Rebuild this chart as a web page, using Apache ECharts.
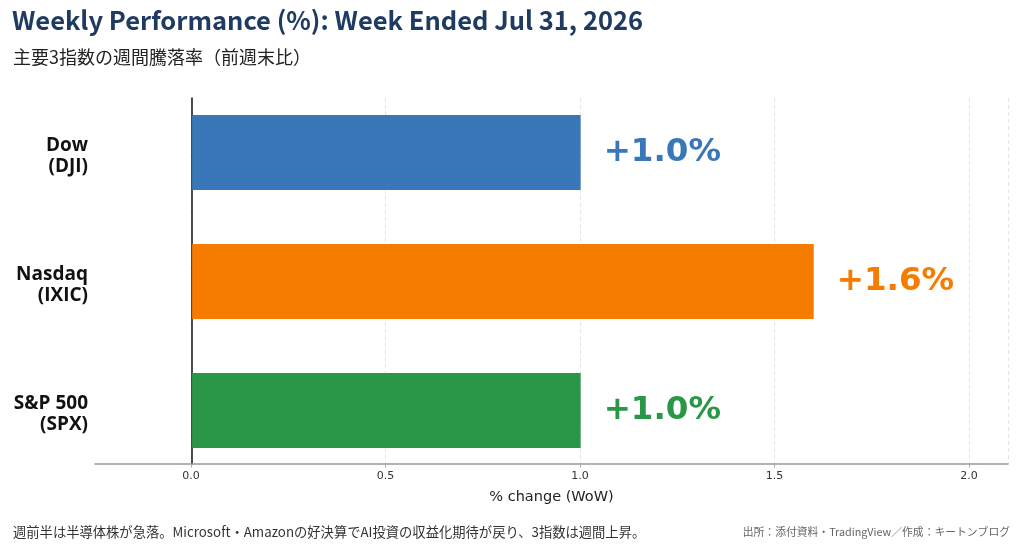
<!DOCTYPE html>
<html>
<head>
<meta charset="utf-8">
<script src="https://cdn.jsdelivr.net/npm/echarts@6/dist/echarts.min.js"></script>
<style>
  html, body { margin: 0; padding: 0; background: #fff; }
  #chart { width: 1024px; height: 545px; }
</style>
</head>
<body>
<div id="chart"></div>
<script>
// data
var indexNames = ['Dow\n(DJI)', 'Nasdaq\n(IXIC)', 'S&P 500\n(SPX)'];
var weeklyChange = [1.0, 1.6, 1.0];
var barColors = ['#3a77b9', '#f57c00', '#2a9748'];
var axisMin = -0.25, axisMax = 2.1, tickStep = 0.5;

var CJK = '"Noto Sans CJK JP", "Noto Sans", sans-serif';
var DV = '"DejaVu Sans", sans-serif';
var OS = '"Open Sans", "Noto Sans", sans-serif';

function run() {
    var chart = echarts.init(document.getElementById('chart'));

    var catText = { fontFamily: OS, fontSize: 19, fontWeight: 'bold', color: '#111', lineHeight: 24, align: 'right' };

    var option = {
        animation: false,
        backgroundColor: '#fff',
        title: [
            { text: 'Weekly Performance (%): Week Ended Jul 31, 2026', left: 7, top: 3,
              textStyle: { fontFamily: CJK, fontSize: 25.5, fontWeight: 'bold', color: '#1f3b62' } },
            { text: '主要3指数の週間騰落率（前週末比）', left: 8, top: 43,
              textStyle: { fontFamily: CJK, fontSize: 18, fontWeight: 'normal', color: '#222' } },
            { text: '週前半は半導体株が急落。Microsoft・Amazonの好決算でAI投資の収益化期待が戻り、3指数は週間上昇。', left: 8, top: 520,
              textStyle: { fontFamily: CJK, fontSize: 13.3, fontWeight: 'normal', color: '#333' } },
            { text: '出所：添付資料・TradingView／作成：キートンブログ', right: 9, top: 522,
              textStyle: { fontFamily: CJK, fontSize: 10.8, fontWeight: 'normal', color: '#666' } }
        ],
        grid: [
            // bars
            { left: 95, right: 16, top: 88, height: 387, outerBoundsMode: 'none' },
            // ticks + split lines
            { left: 191, right: 16, top: 98, height: 366, outerBoundsMode: 'none' },
            // frame lines
            { left: 95, right: 16, top: 98, height: 366, outerBoundsMode: 'none' }
        ],
        xAxis: [
            { gridIndex: 0, type: 'value', min: axisMin, max: axisMax, show: false },
            { gridIndex: 1, type: 'value', min: 0, max: axisMax, interval: tickStep,
              axisLine: { show: false },
              axisTick: { show: true, length: 3.5, lineStyle: { color: '#aaa', width: 1 } },
              axisLabel: { fontFamily: DV, fontSize: 11, color: '#333', margin: 7,
                           showMaxLabel: false,
                           formatter: function (v) { return v.toFixed(1); } },
              splitLine: { show: true, lineStyle: { type: [4, 3], color: '#e4e4e4', width: 1 } } },
            { gridIndex: 2, type: 'value', min: axisMin, max: axisMax,
              axisLine: { show: true, onZero: false, lineStyle: { color: '#999', width: 1.5 } },
              axisTick: { show: false }, axisLabel: { show: false }, splitLine: { show: false },
              name: '% change (WoW)', nameLocation: 'middle', nameGap: 26,
              nameTextStyle: { fontFamily: DV, fontSize: 14.5, color: '#222' } }
        ],
        yAxis: [
            { gridIndex: 0, type: 'category', data: indexNames, inverse: true,
              axisLine: { show: false }, axisTick: { show: false },
              axisLabel: {
                  align: 'right', margin: 7,
                  formatter: function (v) {
                      var parts = v.split('\n');
                      return '{a|' + parts[0] + '}\n{b|' + parts[1] + '}';
                  },
                  rich: {
                      a: Object.assign({}, catText, { padding: [11, 0, 0, 0] }),
                      b: Object.assign({}, catText, { padding: [4, 0, 0, 0] })
                  }
              } },
            { gridIndex: 1, type: 'value', show: false },
            { gridIndex: 2, type: 'value', min: 0, max: 1,
              axisLine: { show: true, onZero: true, lineStyle: { color: '#111', width: 1.5 } },
              axisTick: { show: false }, axisLabel: { show: false }, splitLine: { show: false } }
        ],
        series: [{
            type: 'bar',
            xAxisIndex: 0, yAxisIndex: 0,
            barWidth: 75,
            data: weeklyChange.map(function (v, i) {
                return {
                    value: v,
                    itemStyle: { color: barColors[i] },
                    label: { color: barColors[i] }
                };
            }),
            label: {
                show: true, position: 'right', distance: 23,
                fontFamily: DV, fontSize: 32.5, fontWeight: 'bold',
                formatter: function (p) { return '+' + p.value.toFixed(1) + '%'; }
            }
        }]
    };

    chart.setOption(option);
}

if (document.readyState !== 'loading') {
    run();
} else {
    document.addEventListener('DOMContentLoaded', run);
}
</script>
</body>
</html>
